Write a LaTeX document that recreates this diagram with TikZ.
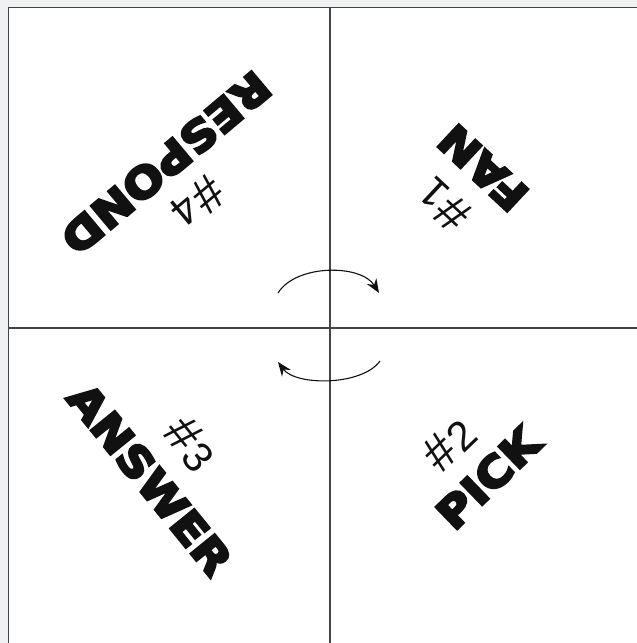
\documentclass[tikz,border=0pt]{standalone}
\usepackage{fontspec}
\setmainfont{Liberation Sans}
\newfontfamily\heavy{DejaVu Sans Bold}[FakeStretch=1.13, FakeBold=6]
\usetikzlibrary{arrows.meta}
\definecolor{bg}{HTML}{F0F1F3}
\definecolor{ink}{HTML}{111111}
\definecolor{rule}{HTML}{444444}
\newcommand{\hashnum}[1]{{\fontsize{50}{50}\selectfont\#}\kern2pt#1}
\begin{document}
\begin{tikzpicture}[x=1pt,y=-1pt,
  word/.style={font=\heavy\fontsize{42}{42}\selectfont, text=ink, inner sep=0pt},
  num/.style={font=\fontsize{42}{42}\selectfont, text=ink, inner sep=0pt},
  rulel/.style={draw=rule, line width=1.2pt},
  turn/.style={draw=ink, line width=1.1pt, -{Stealth[length=14pt,width=11pt]}}]
\useasboundingbox (0,0) rectangle (637,643);
\fill[bg] (0,0) rectangle (637,643);
\fill[white] (8.5,7.8) rectangle (637,643);
% frame and dividers
\coordinate (tl) at (8.5,7.8);
\coordinate (tr) at (637,7.8);
\coordinate (bl) at (8.5,643);
\coordinate (vt) at (330,7.8);
\coordinate (vb) at (330,643);
\coordinate (hl) at (8.5,328);
\coordinate (hr) at (637,328);
\draw[rulel] (bl) -- (tl) -- (tr);
\draw[rulel] (vt) -- (vb);
\draw[rulel] (hl) -- (hr);
% rotating arrows
\coordinate (a1s) at (278,293);
\coordinate (a1e) at (379,293);
\coordinate (a2s) at (380,361);
\coordinate (a2e) at (278,362);
\draw[turn] (a1s) .. controls (296,264) and (361,264) .. (a1e);
\draw[turn] (a2s) .. controls (362,386) and (296,386) .. (a2e);
% quadrant texts
\node[word, rotate=220] (w4) at (166,163) {RESPOND};
\node[num,  rotate=220] (h4) at (198,203) {\hashnum{4}};
\node[word, rotate=137] (w1) at (483,168) {FAN};
\node[num,  rotate=137] (h1) at (443,205) {\hashnum{1}};
\node[word, rotate=-51] (w3) at (150,479) {ANSWER};
\node[num,  rotate=-51] (h3) at (191,444) {\hashnum{3}};
\node[word, rotate=44] (w2) at (488,478) {PICK};
\node[num,  rotate=44] (h2) at (449,444) {\hashnum{2}};
\end{tikzpicture}
\end{document}
